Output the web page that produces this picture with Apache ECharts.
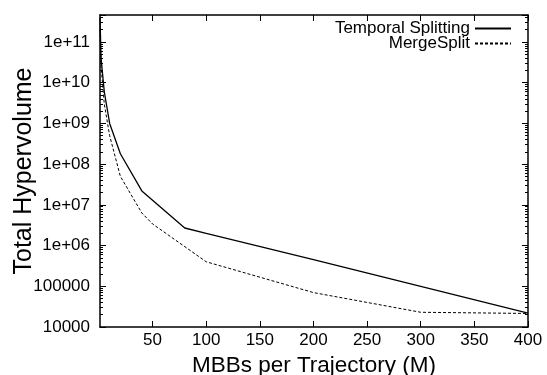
<!DOCTYPE html>
<html>
<head>
<meta charset="utf-8">
<script src="https://cdn.jsdelivr.net/npm/echarts@6/dist/echarts.min.js"></script>
<style>
html,body{margin:0;padding:0;background:#fff;}
#chart{width:547px;height:375px;}
</style>
</head>
<body>
<div id="chart"></div>
<script>
// Data
const seriesNames = ['Temporal Splitting', 'MergeSplit'];
const temporalX = [1, 2, 5, 10, 20, 40, 80, 100, 200, 300, 400];
const temporalY = [4e11, 4e10, 6e9, 1e9, 1.8e8, 2.2e7, 2.7e6, 2.0e6, 4.5e5, 1.0e5, 2.2e4];
const mergeX = [1, 2, 5, 10, 20, 40, 50, 100, 200, 300, 400];
const mergeY = [2e11, 2.5e10, 3e9, 5e8, 5e7, 6.3e6, 3.4e6, 4e5, 7e4, 2.3e4, 2.15e4];
const xTickValues = [50, 100, 150, 200, 250, 300, 350, 400];
const xMin = 1, xMax = 400;
const yMin = 1e4, yMax = 4.6e11;

const FONT = 'Liberation Sans';
const chart = echarts.init(document.getElementById('chart'), null, {renderer: 'canvas'});

function yFmt(v) {
  const e = Math.round(Math.log10(v));
  if (e >= 6) return '1e+' + (e < 10 ? '0' + e : e);
  return String(Math.round(v));
}

function xAxisCfg(show, pos) {
  return {
    type: 'value', min: xMin, max: xMax, position: pos,
    name: show ? 'MBBs per Trajectory (M)' : '',
    nameLocation: 'middle', nameGap: 27, nameMoveOverlap: false,
    nameTextStyle: {fontFamily: FONT, fontSize: 22.5, color: '#000'},
    axisLine: {show: true, onZero: false, lineStyle: {color: '#000', width: 1.5}},
    axisTick: {show: true, inside: true, length: 6, customValues: xTickValues, lineStyle: {color: '#000', width: 1}},
    axisLabel: {show: show, customValues: xTickValues, margin: 5, fontFamily: FONT, fontSize: 17, color: '#000'},
    splitLine: {show: false}
  };
}
function yAxisCfg(show, pos) {
  return {
    type: 'log', logBase: 10, min: yMin, max: yMax, interval: 1, position: pos,
    name: show ? 'Total Hypervolume' : '',
    nameLocation: 'middle', nameGap: 63, nameMoveOverlap: false,
    nameTextStyle: {fontFamily: FONT, fontSize: 25, color: '#000'},
    axisLine: {show: true, lineStyle: {color: '#000', width: 1.5}},
    axisTick: {show: true, inside: true, length: 6, lineStyle: {color: '#000', width: 1}},
    minorTick: {show: true, splitNumber: 9, length: 3, lineStyle: {color: '#000', width: 1}},
    axisLabel: {show: show, showMaxLabel: false, formatter: yFmt, margin: 10, fontFamily: FONT, fontSize: 17, color: '#000'},
    splitLine: {show: false}, minorSplitLine: {show: false}
  };
}

const legendCommon = {
  right: 35, orient: 'vertical', align: 'right', itemWidth: 36, itemHeight: 10, itemGap: 0, padding: 0,
  itemStyle: {opacity: 0},
  textStyle: {fontFamily: FONT, fontSize: 17, color: '#000', lineHeight: 15}
};

const option = {
  animation: false,
  backgroundColor: '#fff',
  grid: {left: 100, right: 19, top: 15, bottom: 48, containLabel: false, outerBoundsMode: 'none'},
  xAxis: [xAxisCfg(true, 'bottom'), xAxisCfg(false, 'top')],
  yAxis: [yAxisCfg(true, 'left'), yAxisCfg(false, 'right')],
  legend: [
    Object.assign({data: [seriesNames[0]], top: 20}, legendCommon),
    Object.assign({data: [seriesNames[1]], top: 35}, legendCommon)
  ],
  series: [
    {name: seriesNames[0], type: 'line', symbol: 'none', xAxisIndex: 0, yAxisIndex: 0,
     data: temporalX.map((x, i) => [x, temporalY[i]]),
     lineStyle: {color: '#000', width: 1.3, type: 'solid'}, itemStyle: {color: '#000'}},
    {name: seriesNames[1], type: 'line', symbol: 'none', xAxisIndex: 0, yAxisIndex: 0,
     data: mergeX.map((x, i) => [x, mergeY[i]]),
     lineStyle: {color: '#000', width: 1, type: [3, 2]}, itemStyle: {color: '#000'}}
  ]
};
chart.setOption(option);
</script>
</body>
</html>
